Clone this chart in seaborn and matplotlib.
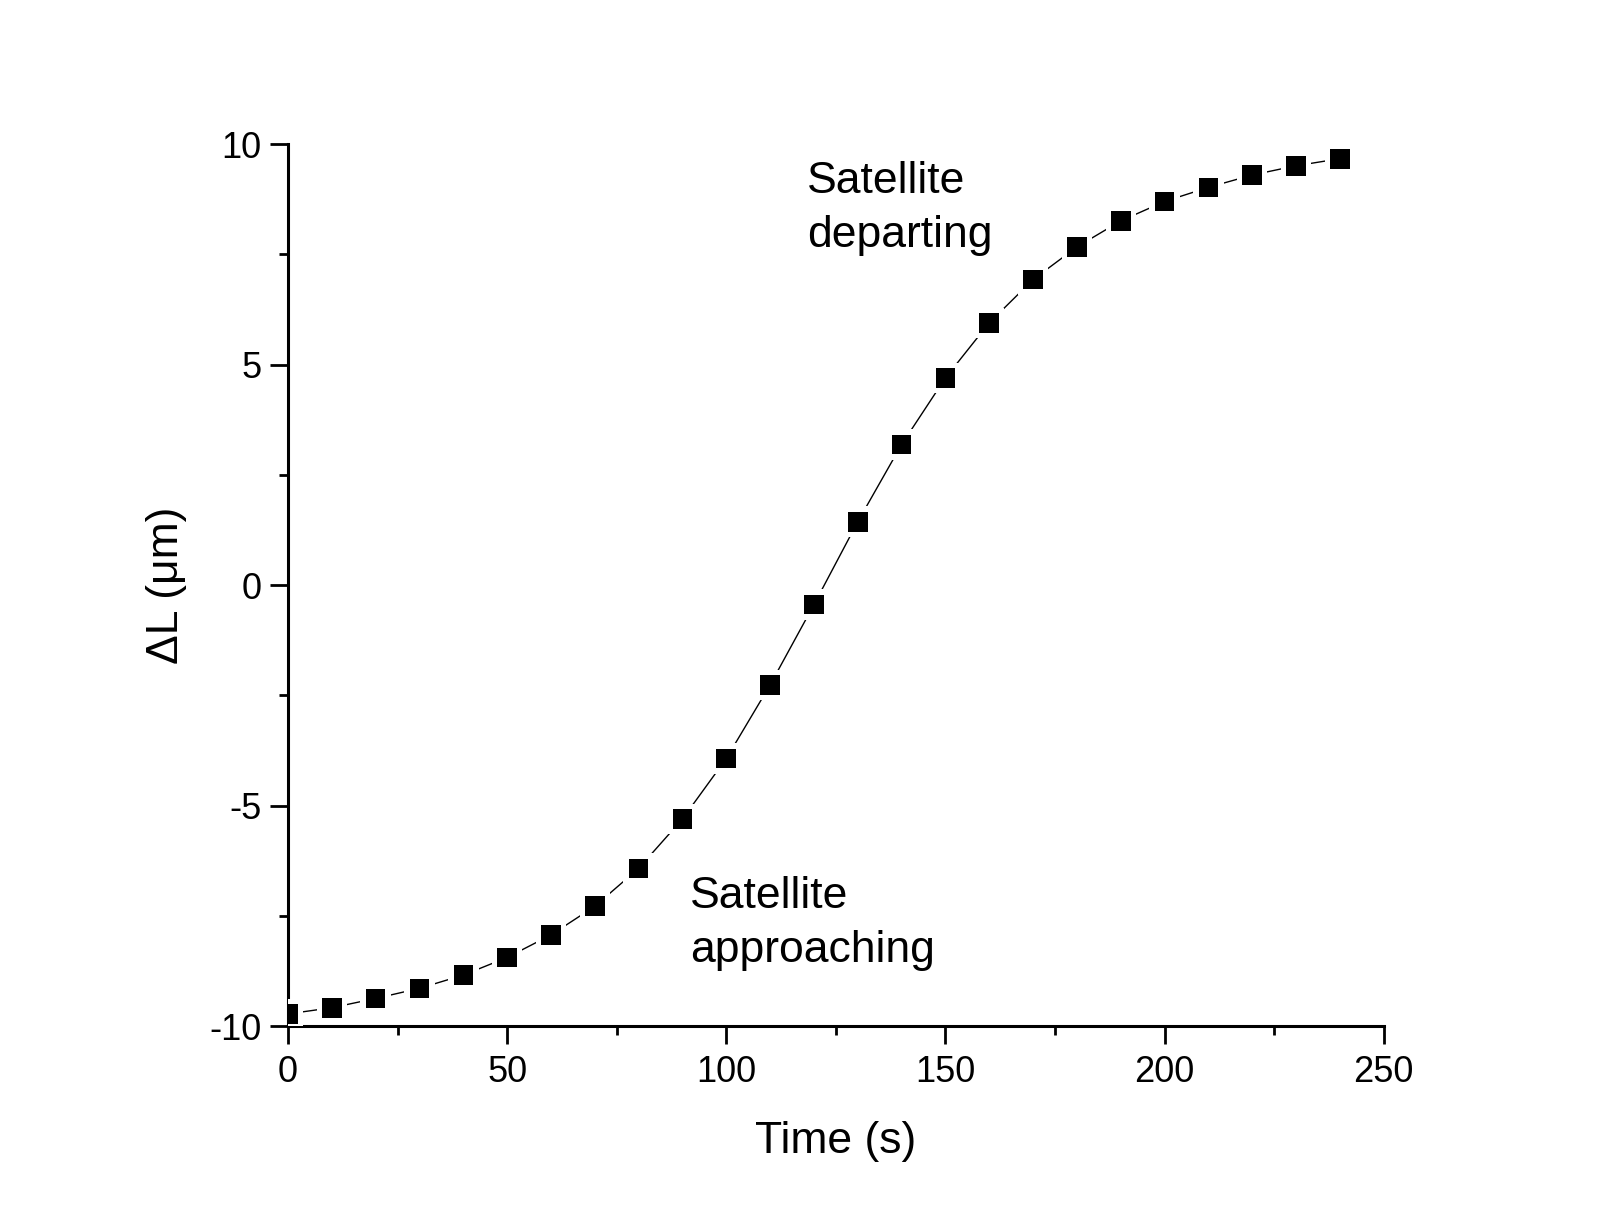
import numpy as np
import matplotlib
matplotlib.use("Agg")
import matplotlib.pyplot as plt
import seaborn as sns
from matplotlib.ticker import MultipleLocator

# data
time_s = [0, 10, 20, 30, 40, 50, 60, 70, 80, 90, 100, 110, 120,
          130, 140, 150, 160, 170, 180, 190, 200, 210, 220, 230, 240]
delta_L = [-9.72, -9.58, -9.37, -9.14, -8.84, -8.44, -7.93, -7.28, -6.42,
           -5.30, -3.93, -2.26, -0.44, 1.44, 3.19, 4.70, 5.95, 6.93,
           7.67, 8.26, 8.70, 9.02, 9.30, 9.51, 9.67]

sns.set_style("ticks")
plt.rcParams['font.family'] = ['Liberation Sans', 'DejaVu Sans']
plt.rcParams['axes.unicode_minus'] = False
plt.rcParams['text.color'] = 'black'
plt.rcParams['axes.labelcolor'] = 'black'

fig = plt.figure(figsize=(16.09, 12.32), dpi=100)
ax = fig.add_axes([0.179, 0.167, 0.681, 0.716])

sns.lineplot(x=time_s, y=delta_L, color='black', linewidth=1.0, ax=ax)
# white backing so the line stops short of each marker
sns.scatterplot(x=time_s, y=delta_L, marker='s', s=480, color='white',
                edgecolor='none', linewidth=0, ax=ax, zorder=3)
sns.scatterplot(x=time_s, y=delta_L, marker='s', s=200, color='black',
                edgecolor='none', linewidth=0, ax=ax, zorder=4)

ax.set_xlim(0, 250)
ax.set_ylim(-10, 10)
ax.xaxis.set_major_locator(MultipleLocator(50))
ax.xaxis.set_minor_locator(MultipleLocator(25))
ax.yaxis.set_major_locator(MultipleLocator(5))
ax.yaxis.set_minor_locator(MultipleLocator(2.5))

sns.despine(ax=ax)
for side in ['left', 'bottom']:
    ax.spines[side].set_linewidth(2.2)
    ax.spines[side].set_color('black')

ax.tick_params(which='major', direction='out', length=13, width=2.0,
               labelsize=26, colors='black')
ax.tick_params(which='minor', direction='out', length=6.5, width=2.0,
               colors='black')
ax.tick_params(axis='x', which='major', pad=8)
ax.tick_params(axis='y', which='major', pad=6)

ax.set_xlabel("Time (s)", fontsize=32, labelpad=22, color='black')
ax.set_ylabel("ΔL (μm)", fontsize=32, labelpad=16, color='black')

ax.text(118.4, 9.62, "Satellite\ndeparting", fontsize=32, va='top',
        ha='left', linespacing=1.4, color='black')
ax.text(91.8, -6.6, "Satellite\napproaching", fontsize=32, va='top',
        ha='left', linespacing=1.4, color='black')

plt.savefig("out.png", dpi=100)
plt.close('all')
